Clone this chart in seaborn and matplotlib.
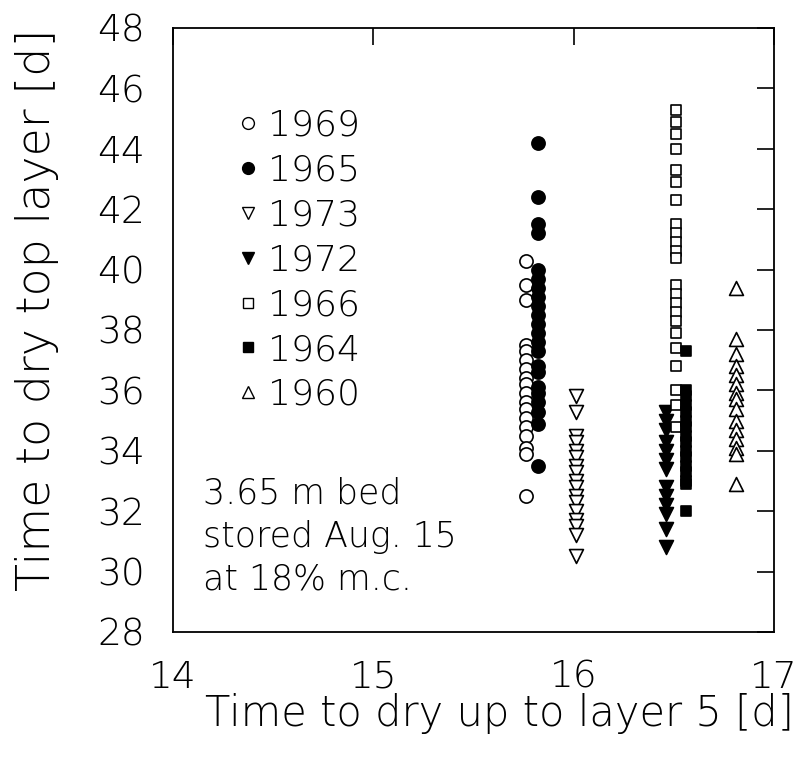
import matplotlib
matplotlib.use("Agg")
import matplotlib.pyplot as plt
from matplotlib.lines import Line2D
import seaborn as sns
import pandas as pd

# ---- data ----
years = ["1969", "1965", "1973", "1972", "1966", "1964", "1960"]
x_pos = [15.76, 15.82, 16.01, 16.46, 16.51, 16.56, 16.81]

y1969 = [40.3, 39.5, 39.0, 37.5, 37.3, 37.0, 36.7, 36.4, 36.2, 35.9, 35.6,
         35.4, 35.1, 34.8, 34.5, 34.1, 33.9, 32.5]
y1965 = [44.2, 42.4, 41.5, 41.2, 40.0, 39.7, 39.4, 39.1, 38.8, 38.5, 38.2,
         37.9, 37.6, 37.3, 36.8, 36.6, 36.1, 35.9, 35.6, 35.3, 34.9, 33.5]
y1973 = [35.8, 35.3, 34.5, 34.3, 34.0, 33.8, 33.5, 33.3, 33.0, 32.8, 32.5,
         32.3, 32.0, 31.7, 31.5, 31.2, 30.5]
y1972 = [35.3, 35.0, 34.7, 34.3, 34.0, 33.7, 33.4, 32.8, 32.5, 32.2, 31.9,
         31.4, 30.8]
y1966 = [45.3, 44.9, 44.5, 44.0, 43.3, 42.9, 42.3, 41.5, 41.2, 40.9, 40.6,
         40.4, 39.5, 39.2, 38.9, 38.6, 38.3, 37.9, 37.4, 36.8, 36.0, 35.5, 34.8]
y1964 = [37.3, 36.0, 35.8, 35.5, 35.3, 35.0, 34.8, 34.5, 34.3, 34.0, 33.8,
         33.5, 33.3, 33.0, 32.9, 32.0]
y1960 = [39.4, 37.7, 37.2, 36.8, 36.5, 36.2, 35.9, 35.7, 35.4, 35.0, 34.7,
         34.4, 34.1, 33.9, 32.9]

series_y = [y1969, y1965, y1973, y1972, y1966, y1964, y1960]
x_ticks = [14, 15, 16, 17]
y_ticks = [28, 30, 32, 34, 36, 38, 40, 42, 44, 46, 48]
note = "3.65 m bed\nstored Aug. 15\nat 18% m.c."

# ---- styling ----
markers = ["o", "o", "v", "v", "s", "s", "^"]
filled = [False, True, False, True, False, True, False]
sizes = [90, 90, 100, 100, 62, 62, 100]

sns.set_theme(style="white")
plt.rcParams["font.family"] = ["DejaVu Sans"]
plt.rcParams["font.weight"] = "light"
plt.rcParams["axes.labelweight"] = "light"
plt.rcParams["text.color"] = "black"
plt.rcParams["axes.labelcolor"] = "black"
plt.rcParams["xtick.color"] = "black"
plt.rcParams["ytick.color"] = "black"

fig = plt.figure(figsize=(8.09, 7.71), dpi=100)
ax = fig.add_axes([0.2138, 0.1803, 0.7429, 0.7834])

handles = []
for yr, xp, ys, m, f, s in zip(years, x_pos, series_y, markers, filled, sizes):
    df = pd.DataFrame({"x": [xp] * len(ys), "y": ys})
    fc = "black" if f else "white"
    sns.scatterplot(data=df, x="x", y="y", marker=m, s=s, color=fc,
                    edgecolor="black", linewidth=1.2, ax=ax, legend=False,
                    zorder=3)
    handles.append(Line2D([], [], linestyle="none", marker=m,
                          markersize=8.5 if m != "s" else 7,
                          markerfacecolor=fc, markeredgecolor="black",
                          markeredgewidth=1.0, label=yr))

ax.set_xlim(14, 17)
ax.set_ylim(28, 48)
ax.set_xticks(x_ticks)
ax.set_yticks(y_ticks)
ax.tick_params(direction="in", length=12, width=1.2, top=True, right=True,
               labelsize=27, pad=20, colors="black")
for sp in ax.spines.values():
    sp.set_color("black")
    sp.set_linewidth(1.3)

ax.set_xlabel("Time to dry up to layer 5 [d]", fontsize=30, fontweight="light")
ax.set_ylabel("Time to dry top layer [d]", fontsize=33, fontweight="light")
ax.xaxis.set_label_coords(0.544, -0.101)
ax.yaxis.set_label_coords(-0.19, 0.533)

leg = ax.legend(handles=handles, loc="upper left", bbox_to_anchor=(0.077, 0.896),
                frameon=False, fontsize=26, handlelength=0.6,
                handletextpad=0.25, labelspacing=0.30, borderpad=0)

ax.text(0.05, 0.058, note, transform=ax.transAxes, fontsize=25,
        va="bottom", ha="left", linespacing=1.35)

fig.savefig("out.png", dpi=100)
